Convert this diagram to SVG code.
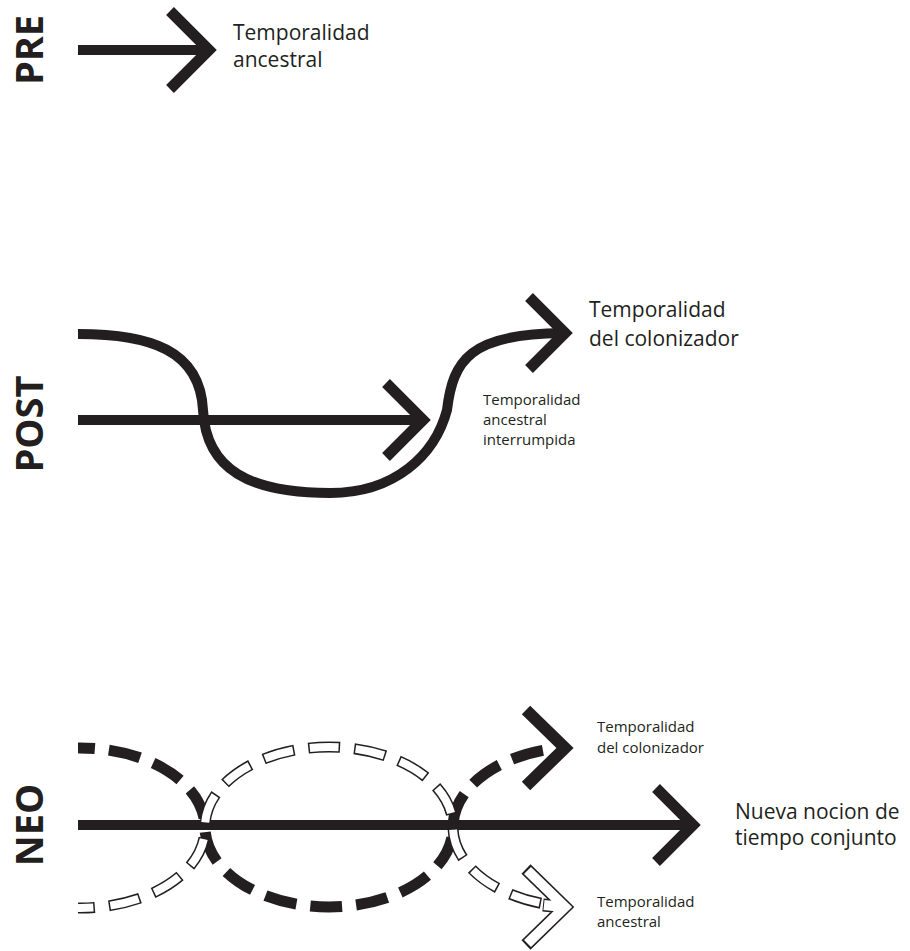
<svg xmlns="http://www.w3.org/2000/svg" width="910" height="951" viewBox="0 0 910 951">
<style>
.ln{fill:none;stroke:#231f20;stroke-width:10;stroke-linecap:butt;stroke-linejoin:miter;stroke-miterlimit:10}
.ch{fill:none;stroke:#231f20;stroke-width:11;stroke-linecap:butt;stroke-linejoin:miter;stroke-miterlimit:10}
.lbl{font-family:"Open Sans","Noto Sans",sans-serif;font-weight:700;font-size:38px;fill:#231f20}
.tl{font-family:"Open Sans","Noto Sans",sans-serif;font-size:21px;fill:#231f20}
.ts{font-family:"Open Sans","Noto Sans",sans-serif;font-size:15px;fill:#231f20}
.dk{fill:none;stroke:#231f20;stroke-width:11;stroke-dasharray:32 14;stroke-dashoffset:15}
.wo{fill:none;stroke:#231f20;stroke-width:11;stroke-dasharray:32 14;stroke-dashoffset:15}
.wi{fill:none;stroke:#ffffff;stroke-width:8;stroke-dasharray:29 17;stroke-dashoffset:13.5}
</style>
<rect width="910" height="951" fill="#ffffff"/>

<g id="connectors">
  <!-- PRE -->
  <line class="ln" x1="78" y1="50" x2="205" y2="50"/>
  <polyline class="ch" points="170,11 209,50 170,89"/>
  <!-- POST -->
  <line class="ln" x1="78" y1="420" x2="420" y2="420"/>
  <polyline class="ch" points="386,383 423,420 386,457"/>
  <path class="ln" d="M78,334 C150,334 200,350 203,410 C206,470 250,493 330,493 C395,493 435,455 447,410 C453,360 470,334 562,333"/>
  <polyline class="ch" points="529,297 565,333 529,369"/>
  <!-- NEO -->
  <line class="ln" x1="78" y1="825" x2="690" y2="825"/>
  <polyline class="ch" points="656,788 693,825 656,862"/>
  <path class="dk" d="M78,748 A125,80 0 0 1 205,827 A124,80 0 0 0 453,827 A125,80 0 0 1 560,748"/>
  <polyline class="ch" style="stroke-width:12" points="526,710 565,748 526,786"/>
  <g id="ancestral-dashed">
    <path class="wo" d="M78,908 A125,80 0 0 0 205,827 A124,80 0 0 1 453,827 A125,80 0 0 0 545,904"/>
    <path class="ch" style="stroke-width:13" d="M526,869 L565,907 L526,945 M543,905 L558,906.5"/>
    <path class="wi" d="M78,908 A125,80 0 0 0 205,827 A124,80 0 0 1 453,827 A125,80 0 0 0 545,904"/>
    <path class="ch" style="stroke:#ffffff;stroke-width:10" d="M527.5,870.5 L565,907 L527.5,943.5 M544,905 L558,906.5"/>
  </g>
</g>

<g id="pre">
  <text class="lbl" transform="translate(43,50) rotate(-90)" text-anchor="middle">PRE</text>
  <text class="tl" x="233" y="40">Temporalidad</text>
  <text class="tl" x="233" y="67">ancestral</text>
</g>

<g id="post">
  <text class="lbl" transform="translate(43,424) rotate(-90)" text-anchor="middle">POST</text>
  <text class="tl" x="589" y="317">Temporalidad</text>
  <text class="tl" x="589" y="346">del colonizador</text>
  <text class="ts" x="483" y="405">Temporalidad</text>
  <text class="ts" x="483" y="425">ancestral</text>
  <text class="ts" x="483" y="445">interrumpida</text>
</g>

<g id="neo">
  <text class="lbl" transform="translate(43,825) rotate(-90)" text-anchor="middle">NEO</text>
  <text class="ts" x="597" y="732">Temporalidad</text>
  <text class="ts" x="597" y="753">del colonizador</text>
  <text class="tl" x="735" y="819">Nueva nocion de</text>
  <text class="tl" x="735" y="845">tiempo conjunto</text>
  <text class="ts" x="597" y="907">Temporalidad</text>
  <text class="ts" x="597" y="927">ancestral</text>
</g>
</svg>
